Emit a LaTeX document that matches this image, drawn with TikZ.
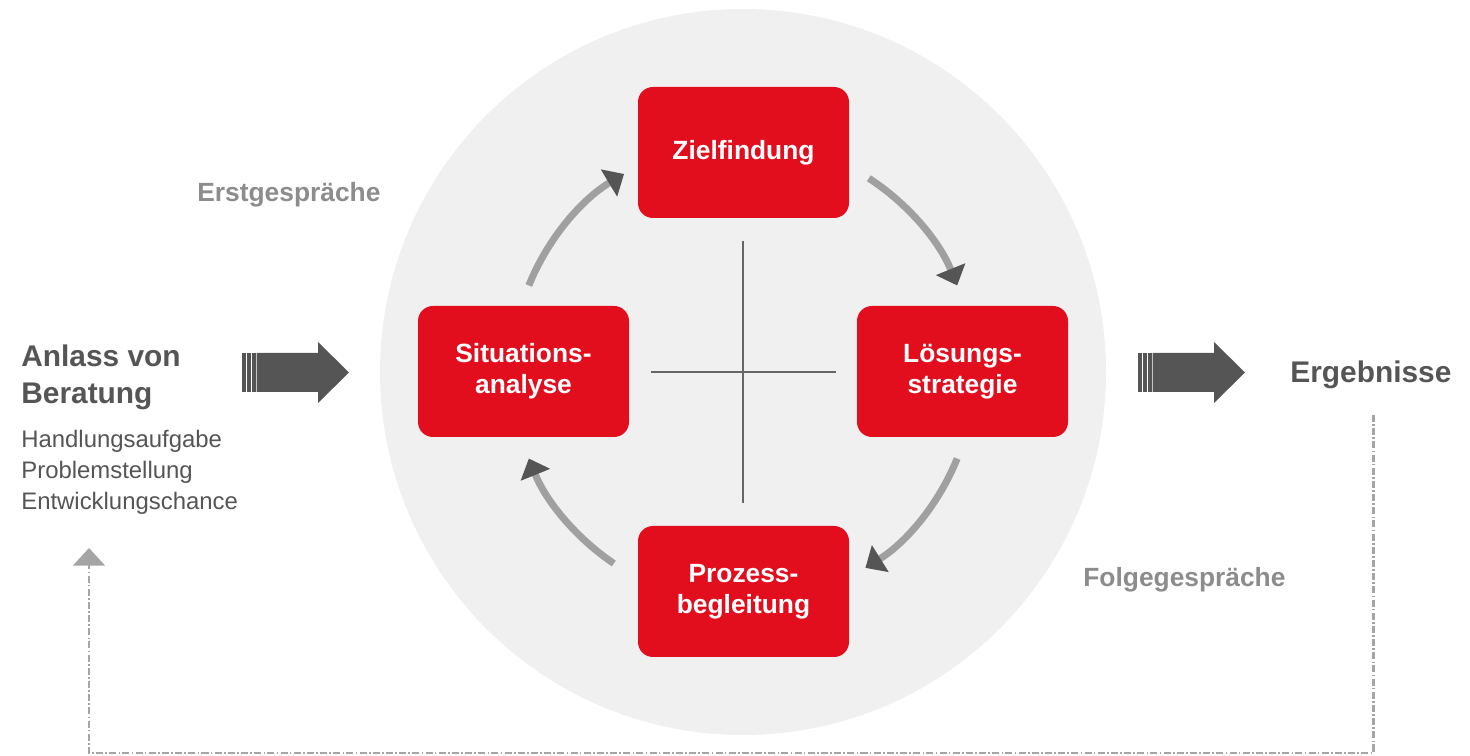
\documentclass[tikz,border=0pt]{standalone}
\usepackage{fontspec}
\setmainfont{Liberation Sans}
\usetikzlibrary{arrows.meta}
\definecolor{boxred}{RGB}{226,14,30}
\definecolor{circlegray}{RGB}{240,240,240}
\definecolor{textdark}{RGB}{85,85,85}
\definecolor{textlight}{RGB}{140,140,140}
\definecolor{shaftgray}{RGB}{160,160,160}
\definecolor{tipgray}{RGB}{85,85,85}
\definecolor{dashgray}{RGB}{165,165,165}
\tikzset{
    stepbox/.style={rounded corners=0.3cm, fill=boxred, text=white, align=center,
        minimum width=4.22cm, minimum height=2.62cm, inner sep=0pt,
        font=\fontsize{15}{17.6}\selectfont\bfseries},
    cyclearrow/.style={shaftgray, line width=4pt,
        -{Triangle[length=10pt, width=17.5pt, color=tipgray]}},
    feedback/.style={dashgray, line width=1.7pt,
        dash pattern=on 4pt off 1.3pt on 0.9pt off 1.3pt,
        -{Triangle[length=10pt, width=18pt]}},
    phase/.style={textlight, inner sep=0pt, font=\fontsize{15}{18}\selectfont\bfseries}
}
\begin{document}
\begin{tikzpicture}
    \useasboundingbox (0,0) rectangle (29.4,15.12);
    \coordinate (c) at (14.86,7.68);
    \fill[circlegray] (c) circle (7.26);
    \draw[textdark!90, line width=1.1pt] (14.86,10.3) -- (14.86,5.06)
        (13.02,7.68) -- (16.72,7.68);

    \node[stepbox] (ziel) at (14.87,12.07) {Zielfindung};
    \node[stepbox] (loesung) at (19.25,7.69) {Lösungs-\\strategie};
    \node[stepbox] (prozess) at (14.87,3.29) {Prozess-\\begleitung};
    \node[stepbox] (situation) at (10.47,7.69) {Situations-\\analyse};

    \draw[cyclearrow] ([shift={(158:4.62)}]c) arc (158:121:4.62);
    \draw[cyclearrow] ([shift={(57:4.62)}]c) arc (57:22:4.62);
    \draw[cyclearrow] ([shift={(-22:4.62)}]c) arc (-22:-58:4.62);
    \draw[cyclearrow] ([shift={(-124:4.62)}]c) arc (-124:-158:4.62);

    \foreach \dx in {0,17.92} {
        \begin{scope}[xshift=\dx cm]
            \fill[textdark] (5.134,7.28) -- (6.36,7.28) -- (6.36,7.06) -- (6.98,7.67)
                -- (6.36,8.28) -- (6.36,8.06) -- (5.134,8.06) -- cycle;
            \foreach \s in {4.846,4.946,5.046}
                \fill[textdark] (\s,7.28) rectangle ++(0.068,0.78);
        \end{scope}
    }

    \node[anchor=north west, align=left, inner sep=0pt, textdark,
        font=\fontsize{17}{21}\selectfont\bfseries] (anlass) at (0.42,8.22)
        {Anlass von\\Beratung};
    \node[anchor=north west, align=left, inner sep=0pt, textdark,
        font=\fontsize{13.6}{17.6}\selectfont] (anlasslist) at (0.42,6.52)
        {Handlungsaufgabe\\Problemstellung\\Entwicklungschance};
    \node[anchor=base west, inner sep=0pt, textdark,
        font=\fontsize{17}{21}\selectfont\bfseries] (ergebnisse) at (25.8,7.46) {Ergebnisse};
    \node[phase, anchor=base west] (erst) at (3.94,11.08) {Erstgespräche};
    \node[phase, anchor=base west] (folge) at (21.66,3.38) {Folgegespräche};

    \coordinate (fbstart) at (27.46,6.82);
    \coordinate (fbcorner) at (27.46,0.06);
    \coordinate (fbend) at (1.78,4.16);
    \draw[feedback] (fbstart) -- (fbcorner) -| (fbend);
\end{tikzpicture}
\end{document}
